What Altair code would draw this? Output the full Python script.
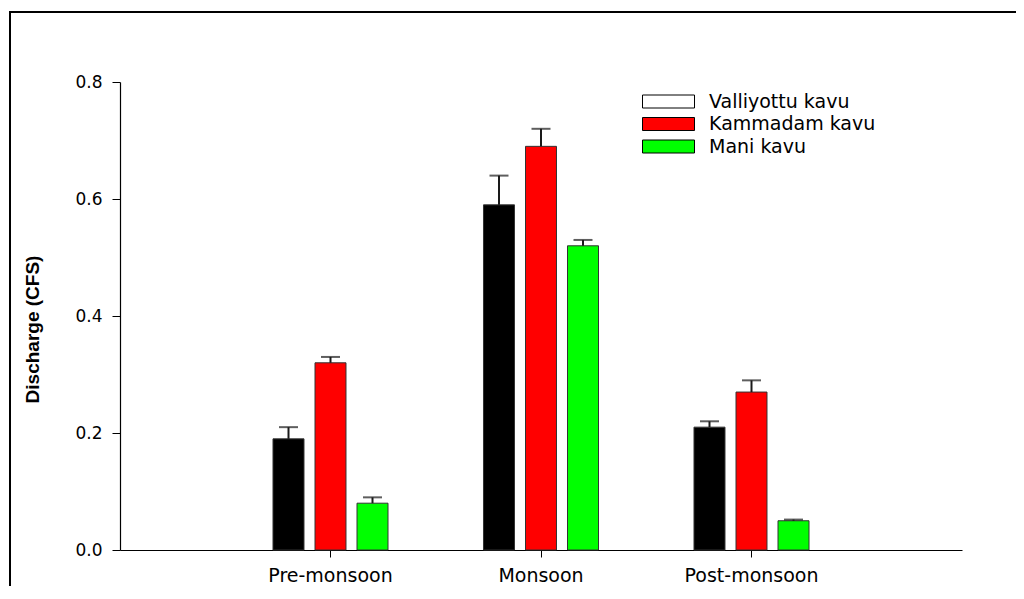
import altair as alt
import pandas as pd

seasons = ["Pre-monsoon", "Monsoon", "Post-monsoon"]
series = ["Valliyottu kavu", "Kammadam kavu", "Mani kavu"]
bar_colors = ["#000000", "#FF0000", "#00FF00"]
legend_colors = ["#FFFFFF", "#FF0000", "#00FF00"]

valliyottu = [0.19, 0.59, 0.21]
kammadam = [0.32, 0.69, 0.27]
mani = [0.08, 0.52, 0.05]
valliyottu_err = [0.02, 0.05, 0.01]
kammadam_err = [0.01, 0.03, 0.02]
mani_err = [0.01, 0.01, 0.002]

y_ticks = [0.0, 0.2, 0.4, 0.6, 0.8]

rows = []
for name, vals, errs in [(series[0], valliyottu, valliyottu_err),
                         (series[1], kammadam, kammadam_err),
                         (series[2], mani, mani_err)]:
    for s, v, e in zip(seasons, vals, errs):
        rows.append({"season": s, "series": name, "value": v, "upper": v + e})
df = pd.DataFrame(rows)

legend_df = pd.DataFrame({"series": series, "fill": legend_colors})

FONT = "DejaVu Sans"

x_enc = alt.X("season:N", sort=seasons,
              scale=alt.Scale(paddingInner=0.4014, paddingOuter=0.7007),
              axis=alt.Axis(title=None, labelAngle=0, labelFont=FONT, labelFontSize=19,
                            labelColor="#000000", tickSize=7, tickColor="#000000",
                            domainColor="#000000", domainWidth=1.2, labelPadding=9))
xoff_enc = alt.XOffset("series:N", sort=series,
                       scale=alt.Scale(paddingInner=0.262, paddingOuter=0.131))

bars = alt.Chart(df).mark_bar(stroke="#333333", strokeWidth=1).encode(
    x=x_enc,
    xOffset=xoff_enc,
    y=alt.Y("value:Q", scale=alt.Scale(domain=[0, 0.8], nice=False, zero=True),
            axis=alt.Axis(title="Discharge (CFS)", values=y_ticks, format=".1f",
                          grid=False, labelFont=FONT, labelFontSize=17, labelColor="#000000",
                          tickSize=8, tickColor="#000000", domainColor="#000000",
                          domainWidth=1.2, labelPadding=10,
                          titleFont="Liberation Sans", titleFontSize=19, titleFontWeight="bold",
                          titleColor="#000000", titleX=-88, titleY=247,
                          titleAlign="center", titleBaseline="middle", titleAngle=270)),
    color=alt.Color("series:N", scale=alt.Scale(domain=series, range=bar_colors), legend=None),
)

err_rules = alt.Chart(df).mark_rule(color="#1a1a1a", strokeWidth=2).encode(
    x=alt.X("season:N", sort=seasons),
    xOffset=alt.XOffset("series:N", sort=series),
    y="value:Q",
    y2="upper:Q",
)

err_caps = alt.Chart(df).mark_tick(color="#1a1a1a", thickness=2, size=19, orient="horizontal").encode(
    x=alt.X("season:N", sort=seasons),
    xOffset=alt.XOffset("series:N", sort=series),
    y="upper:Q",
)

main = alt.layer(bars, err_rules, err_caps)

legend_boxes = alt.Chart(legend_df).mark_point(
    shape="M-4,-1H4V1H-4Z", size=169, filled=True, stroke="#000000", strokeWidth=1, opacity=1
).encode(
    x=alt.value(548.5),
    y=alt.Y("series:N", sort=series, scale=alt.Scale(range=[19.5, 64.5], padding=0), axis=None),
    fill=alt.Fill("fill:N", scale=None, legend=None),
)

legend_text = alt.Chart(legend_df).mark_text(
    align="left", baseline="middle", font=FONT, fontSize=19, color="#000000"
).encode(
    x=alt.value(589),
    y=alt.Y("series:N", sort=series, scale=alt.Scale(range=[19.5, 64.5], padding=0), axis=None),
    text="series:N",
)

legend = alt.layer(legend_boxes, legend_text)

one = pd.DataFrame({"a": [0]})
frame_left = alt.Chart(one).mark_rule(color="#000000", strokeWidth=2).encode(
    x=alt.value(-110), y=alt.value(-71), y2=alt.value(700))
frame_top = alt.Chart(one).mark_rule(color="#000000", strokeWidth=2).encode(
    y=alt.value(-70), x=alt.value(-111), x2=alt.value(1100))

chart = alt.layer(main, legend, frame_left, frame_top).resolve_scale(
    y="independent", fill="independent"
).properties(
    width=842, height=468,
    padding={"left": 112, "top": 74, "right": 54, "bottom": 36},
    autosize=alt.AutoSizeParams(type="none"),
).configure_view(stroke=None)

chart.save("out.html", embed_options={"renderer": "svg", "actions": False})
